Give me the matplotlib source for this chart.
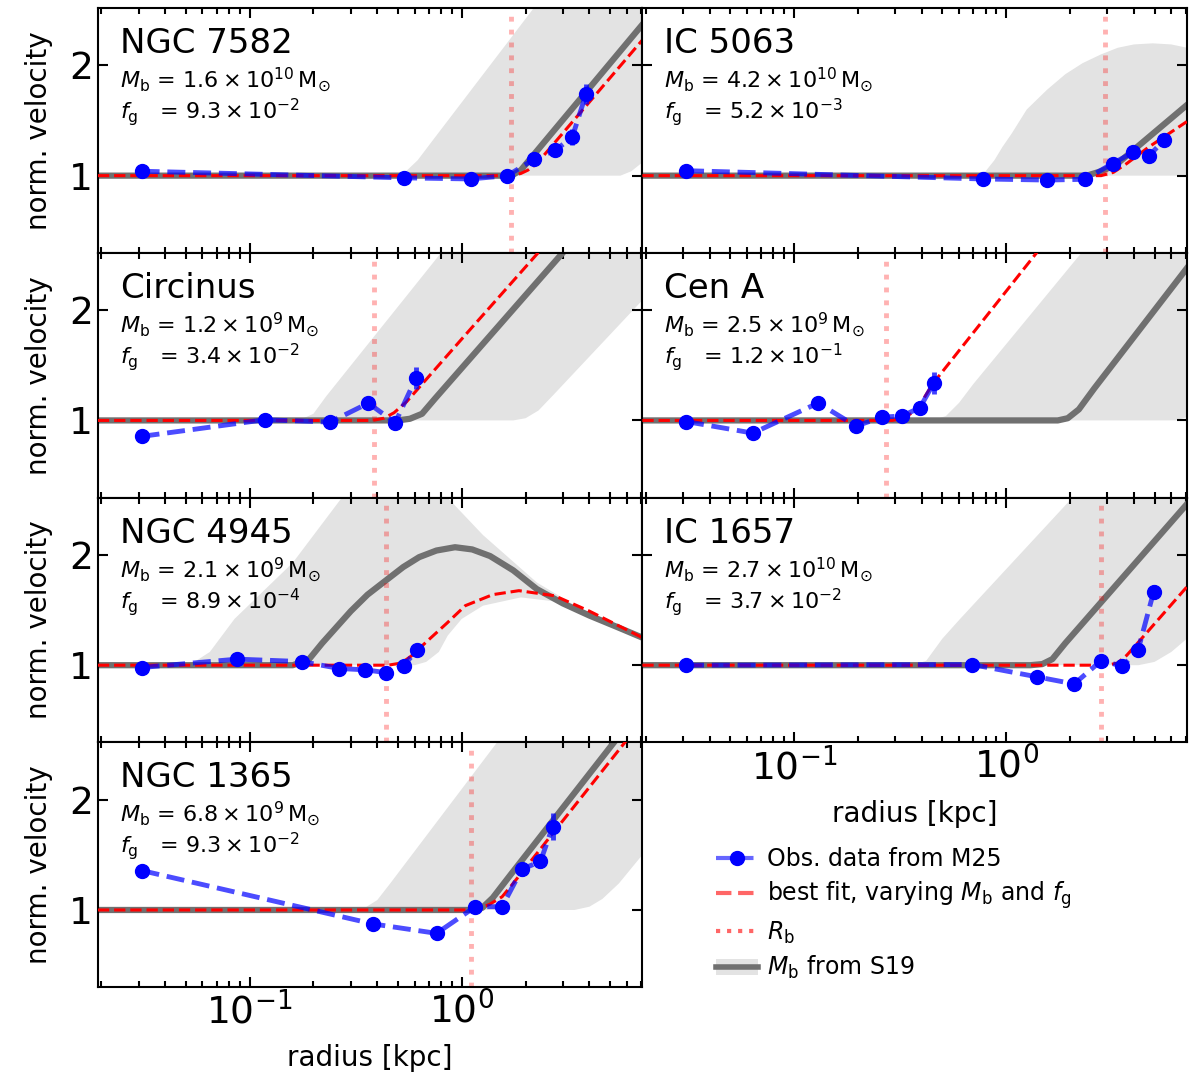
import numpy as np
import matplotlib
matplotlib.use("Agg")
import matplotlib.pyplot as plt
from matplotlib.lines import Line2D
from matplotlib.patches import Patch

# Galaxien (Reihenfolge: zeilenweise)
names = ["NGC 7582", "IC 5063", "Circinus", "Cen A", "NGC 4945", "IC 1657", "NGC 1365"]
mb_mant = ["1.6", "4.2", "1.2", "2.5", "2.1", "2.7", "6.8"]
mb_exp = [10, 10, 9, 9, 9, 10, 9]
fg_mant = ["9.3", "5.2", "3.4", "1.2", "8.9", "3.7", "9.3"]
fg_exp = [-2, -3, -2, -1, -4, -2, -2]
r_bulge = [1.71, 2.91, 0.384, 0.27, 0.439, 2.79, 1.11]

# Beobachtungsdaten (M25)
r_obs = [
    [0.031, 0.537, 1.10, 1.64, 2.20, 2.76, 3.32, 3.85],
    [0.031, 0.774, 1.56, 2.36, 3.17, 3.96, 4.71, 5.53],
    [0.031, 0.118, 0.240, 0.363, 0.486, 0.610],
    [0.031, 0.064, 0.130, 0.196, 0.259, 0.323, 0.392, 0.456],
    [0.031, 0.0874, 0.176, 0.265, 0.351, 0.439, 0.533, 0.615],
    [0.031, 0.692, 1.40, 2.09, 2.81, 3.53, 4.19, 4.95],
    [0.031, 0.383, 0.761, 1.16, 1.55, 1.92, 2.35, 2.68],
]
v_obs = [
    [1.04, 0.98, 0.97, 1.00, 1.15, 1.23, 1.35, 1.74],
    [1.045, 0.97, 0.96, 0.967, 1.11, 1.21, 1.18, 1.32],
    [0.855, 1.006, 0.985, 1.157, 0.979, 1.388],
    [0.99, 0.885, 1.158, 0.948, 1.03, 1.04, 1.115, 1.34],
    [0.979, 1.055, 1.033, 0.97, 0.958, 0.933, 0.994, 1.139],
    [1.0, 1.006, 0.894, 0.830, 1.042, 0.99, 1.142, 1.664],
    [1.358, 0.873, 0.788, 1.03, 1.03, 1.37, 1.44, 1.755],
]
v_err = [
    [0.06, 0.05, 0.05, 0.03, 0.04, 0.04, 0.07, 0.09],
    [0.03, 0.02, 0.02, 0.02, 0.03, 0.03, 0.03, 0.03],
    [0.04, 0.04, 0.04, 0.05, 0.05, 0.10],
    [0.05, 0.04, 0.04, 0.05, 0.05, 0.04, 0.06, 0.10],
    [0.02, 0.02, 0.02, 0.02, 0.02, 0.02, 0.02, 0.02],
    [0.03, 0.02, 0.02, 0.03, 0.03, 0.03, 0.03, 0.06],
    [0.04, 0.04, 0.05, 0.05, 0.05, 0.06, 0.06, 0.12],
]

# M_b aus S19 (Linie)
r_s19 = [
    [0.0193, 1.62, 1.75, 1.9, 7.1],
    [0.0193, 2.4, 2.8, 3.3, 7.1],
    [0.0193, 0.5, 0.57, 0.65, 0.75, 3.5],
    [0.0193, 1.75, 1.95, 2.2, 2.6, 7.1],
    [0.0193, 0.16, 0.19, 0.22, 0.30, 0.36, 0.44, 0.53, 0.63, 0.76, 0.93,
     1.12, 1.36, 1.75, 2.26, 3.0, 4.0, 5.5, 7.1],
    [0.0193, 1.3, 1.48, 1.65, 1.9, 7.1],
    [0.0193, 1.1, 1.25, 1.4, 1.7, 7.1],
]
v_s19 = [
    [1, 1, 1.01, 1.05, 2.37],
    [1, 1, 1.04, 1.1, 1.64],
    [1, 1, 1.015, 1.06, 1.2, 2.67],
    [1, 1, 1.02, 1.1, 1.29, 2.38],
    [1, 1, 1.05, 1.2, 1.49, 1.64, 1.77, 1.89, 1.98, 2.04, 2.07,
     2.05, 1.99, 1.86, 1.69, 1.56, 1.45, 1.34, 1.25],
    [1, 1, 1.01, 1.055, 1.2, 2.46],
    [1, 1, 1.02, 1.11, 1.32, 2.85],
]

# S19 Band (unten / oben)
r_lo = [
    [0.0193, 5.6, 6.3, 7.1],
    [0.0193, 7.1],
    [0.0193, 1.75, 2.0, 2.3, 2.7, 7.1],
    [0.0193, 6.3, 7.1],
    [0.0193, 0.6, 0.68, 0.78, 0.86, 1.0, 1.26, 1.9, 2.7, 4.0, 7.1],
    [0.0193, 4.2, 5.0, 6.0, 7.1],
    [0.0193, 3.4, 4.0, 4.6, 5.5, 7.1],
]
v_lo = [
    [1, 1, 1.04, 1.12],
    [1, 1],
    [1, 1, 1.02, 1.09, 1.23, 2.09],
    [1, 1, 1.03],
    [1, 1, 1.03, 1.12, 1.27, 1.42, 1.54, 1.615, 1.58, 1.45, 1.23],
    [1, 1, 1.03, 1.12, 1.24],
    [1, 1, 1.03, 1.1, 1.24, 1.5],
]
r_hi = [
    [0.0193, 0.47, 0.54, 0.62, 0.73, 7.1],
    [0.0193, 0.72, 0.8, 0.88, 0.96, 1.06, 1.25, 1.56, 1.9, 2.29, 2.8, 3.36,
     4.0, 4.9, 6.0, 7.1],
    [0.0193, 0.15, 0.175, 0.2, 0.23, 7.1],
    [0.0193, 0.45, 0.52, 0.6, 0.7, 7.1],
    [0.0193, 0.045, 0.055, 0.065, 0.085, 0.16, 0.27, 0.5, 0.8, 1.26, 2.26, 3.5, 7.1],
    [0.0193, 0.36, 0.42, 0.5, 0.6, 7.1],
    [0.0193, 0.31, 0.35, 0.4, 0.46, 7.1],
]
v_hi = [
    [1, 1, 1.03, 1.14, 1.32, 3.81],
    [1, 1, 1.04, 1.14, 1.26, 1.38, 1.6, 1.78, 1.92, 2.02, 2.1, 2.16,
     2.19, 2.2, 2.19, 2.16],
    [1, 1, 1.01, 1.06, 1.22, 4.8],
    [1, 1, 1.04, 1.16, 1.33, 3.68],
    [1, 1, 1.03, 1.12, 1.42, 1.93, 2.51, 2.7, 2.58, 2.18, 1.75, 1.53, 1.26],
    [1, 1, 1.04, 1.24, 1.41, 3.64],
    [1, 1, 1.02, 1.09, 1.24, 4.26],
]

# beste Anpassung (M_b und f_g variiert)
r_fit = [
    [0.0193, 1.72, 1.9, 2.05, 2.26, 7.1],
    [0.0193, 2.8, 3.2, 3.7, 4.7, 7.1],
    [0.0193, 0.38, 0.43, 0.48, 0.55, 1.02, 2.6],
    [0.0193, 0.29, 0.33, 0.38, 0.45, 1.5],
    [0.0193, 0.45, 0.52, 0.58, 0.68, 0.85, 1.04, 1.4, 1.86, 2.74, 4.0, 7.1],
    [0.0193, 3.0, 3.35, 3.7, 4.16, 7.1],
    [0.0193, 1.15, 1.35, 1.55, 1.75, 7.1],
]
v_fit = [
    [1, 1, 1.02, 1.05, 1.11, 2.23],
    [1, 1, 1.03, 1.11, 1.26, 1.49],
    [1, 1, 1.02, 1.07, 1.17, 1.757, 2.64],
    [1, 1, 1.02, 1.1, 1.33, 2.6],
    [1, 1, 1.02, 1.085, 1.21, 1.38, 1.54, 1.64, 1.676, 1.63, 1.49, 1.25],
    [1, 1, 1.02, 1.09, 1.2, 1.71],
    [1, 1, 1.05, 1.12, 1.243, 2.72],
]

band_farbe = "#e3e3e3"
s19_farbe = "#707070"

fig, axes = plt.subplots(4, 2, figsize=(11.94, 10.73), dpi=100)
fig.subplots_adjust(left=0.082, right=0.994, top=0.9925, bottom=0.080,
                    hspace=0, wspace=0)

for i, name in enumerate(names):
    ax = axes.flat[i]

    band_r = np.concatenate([r_hi[i], r_lo[i][::-1]])
    band_v = np.concatenate([v_hi[i], v_lo[i][::-1]])
    ax.fill(band_r, band_v, color=band_farbe, lw=0, zorder=1)

    ax.plot(r_s19[i], v_s19[i], color=s19_farbe, lw=4.5, zorder=2,
            solid_joinstyle="round")
    ax.axvline(r_bulge[i], color="red", alpha=0.3, ls=":", lw=3.5, zorder=2.5)
    ax.plot(r_fit[i], v_fit[i], "--", color="red", lw=2.2, zorder=3)

    ax.plot(r_obs[i], v_obs[i], "--", color="blue", alpha=0.7, lw=3.5, zorder=4)
    ax.errorbar(r_obs[i], v_obs[i], yerr=v_err[i], fmt="o", color="blue",
                ecolor=(0, 0, 1, 0.75), elinewidth=3.5, capsize=0, ms=10,
                zorder=5)

    ax.set_xscale("log")
    ax.set_xlim(0.0193, 7.1)
    ax.set_ylim(0.3, 2.52)
    ax.set_yticks([1, 2])

    ax.tick_params(which="both", direction="in", top=True, right=True,
                   width=1.5, labelsize=27)
    ax.tick_params(which="major", length=7)
    ax.tick_params(which="minor", length=4)
    for sp in ax.spines.values():
        sp.set_linewidth(1.5)

    col = i % 2
    ax.tick_params(labelleft=(col == 0), labelbottom=(i in (5, 6)))
    if col == 0:
        ax.set_ylabel("norm. velocity", fontsize=20, labelpad=12)
    if i in (5, 6):
        ax.set_xlabel("radius [kpc]", fontsize=20, labelpad=9)

    ax.text(0.04, 0.816, name, transform=ax.transAxes, fontsize=24.5,
            va="baseline", ha="left")
    ax.text(0.04, 0.675,
            r"$M_{\rm b}$ = $" + mb_mant[i] + r"\times 10^{%d}\,{\rm M}_{\odot}$" % mb_exp[i],
            transform=ax.transAxes, fontsize=16, va="baseline", ha="left")
    ax.text(0.04, 0.548,
            r"$f_{\rm g}$   = $" + fg_mant[i] + r"\times 10^{%d}$" % fg_exp[i],
            transform=ax.transAxes, fontsize=16, va="baseline", ha="left")

axes[3, 1].axis("off")

# Legende
h_obs = Line2D([], [], color=(0, 0, 1, 0.6), ls="--", lw=3, marker="o",
               mfc="blue", mec="blue", ms=10)
h_fit = Line2D([], [], color="red", alpha=0.6, ls="--", lw=3)
h_rb = Line2D([], [], color="red", alpha=0.6, ls=":", lw=3)
h_s19 = (Patch(color=band_farbe, lw=0), Line2D([], [], color=s19_farbe, lw=4))

fig.legend(
    [h_obs, h_fit, h_rb, h_s19],
    ["Obs. data from M25",
     r"best fit, varying $M_{\rm b}$ and $f_{\rm g}$",
     r"$R_{\rm b}$",
     r"$M_{\rm b}$ from S19"],
    loc="upper left",
    bbox_to_anchor=(0.592, 0.219),
    frameon=False,
    fontsize=17,
    handlelength=1.75,
    handletextpad=0.4,
    labelspacing=0.35,
    borderaxespad=0,
)

fig.savefig("out.png", dpi=100)
